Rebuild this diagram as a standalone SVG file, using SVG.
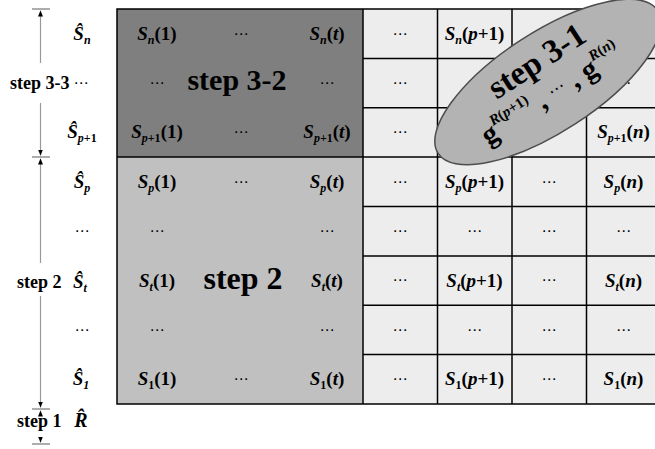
<svg xmlns="http://www.w3.org/2000/svg" width="655" height="449" viewBox="0 0 655 449">
<style>
.t{font-family:"Liberation Serif","Times New Roman",serif;font-weight:bold;font-size:19px;text-anchor:middle;fill:#000}
.i{font-style:italic}
.sb{font-size:12px;font-style:italic}
.sbu{font-size:12px;font-style:normal}
.d{font-family:"DejaVu Sans",sans-serif;font-size:15px;text-anchor:middle;fill:#000}
.big{font-family:"Liberation Serif","Times New Roman",serif;font-weight:bold;font-size:30px;text-anchor:middle;fill:#000}
.lbl{font-family:"Liberation Serif","Times New Roman",serif;font-weight:bold;font-size:18px;fill:#000}
.sup{font-size:15px}
.grid{stroke:#000;stroke-width:1.5;fill:none}
.ax{stroke:#999;stroke-width:1.2}
.tick{stroke:#777;stroke-width:1.2}
</style>
<defs>
<marker id="ah" viewBox="0 0 6 6" refX="6" refY="3" markerWidth="6" markerHeight="6" orient="auto" markerUnits="userSpaceOnUse">
<path d="M0,0.5 L6,3 L0,5.5 Z" fill="#000"/>
</marker>
</defs>
<rect width="655" height="449" fill="#fff"/>

<!-- blocks -->
<g id="block-step3-2">
<rect x="117" y="9" width="246" height="148" fill="#7f7f7f"/>
</g>
<g id="block-step2">
<rect x="117" y="157" width="246" height="247" fill="#c0c0c0"/>
</g>
<g id="block-right">
<rect x="363" y="9" width="300" height="395" fill="#ededed"/>
</g>

<!-- grid lines -->
<g id="grid" class="grid">
<rect x="117" y="9" width="560" height="395"/>
<line x1="363" y1="9" x2="363" y2="404"/>
<line x1="437.5" y1="9" x2="437.5" y2="404"/>
<line x1="512" y1="9" x2="512" y2="404"/>
<line x1="586.5" y1="9" x2="586.5" y2="404"/>
<line x1="363" y1="58.4" x2="655" y2="58.4"/>
<line x1="363" y1="107.8" x2="655" y2="107.8"/>
<line x1="117" y1="157.1" x2="655" y2="157.1"/>
<line x1="363" y1="206.5" x2="655" y2="206.5"/>
<line x1="363" y1="255.9" x2="655" y2="255.9"/>
<line x1="363" y1="305.3" x2="655" y2="305.3"/>
<line x1="363" y1="354.6" x2="655" y2="354.6"/>
</g>

<!-- left block texts -->
<g id="left-cells">
<text class="t" x="157" y="39.7"><tspan class="i">S</tspan><tspan class="sb" dy="4">n</tspan><tspan dy="-4">(1)</tspan></text>
<text class="d" x="241" y="38.5">⋯</text>
<text class="t" x="327" y="39.7"><tspan class="i">S</tspan><tspan class="sb" dy="4">n</tspan><tspan dy="-4">(</tspan><tspan class="i">t</tspan>)</text>
<text class="d" x="157" y="87.9">⋯</text>
<text class="big" x="237" y="90">step 3-2</text>
<text class="d" x="327" y="87.9">⋯</text>
<text class="t" x="157" y="138.4"><tspan class="i">S</tspan><tspan class="sb" dy="4">p</tspan><tspan class="sbu">+1</tspan><tspan dy="-4">(1)</tspan></text>
<text class="d" x="241" y="137.2">⋯</text>
<text class="t" x="327" y="138.4"><tspan class="i">S</tspan><tspan class="sb" dy="4">p</tspan><tspan class="sbu">+1</tspan><tspan dy="-4">(</tspan><tspan class="i">t</tspan>)</text>

<text class="t" x="157" y="187.8"><tspan class="i">S</tspan><tspan class="sb" dy="4">p</tspan><tspan dy="-4">(1)</tspan></text>
<text class="d" x="241" y="186.6">⋯</text>
<text class="t" x="327" y="187.8"><tspan class="i">S</tspan><tspan class="sb" dy="4">p</tspan><tspan dy="-4">(</tspan><tspan class="i">t</tspan>)</text>
<text class="d" x="157" y="236">⋯</text>
<text class="d" x="327" y="236">⋯</text>
<text class="t" x="157" y="286.5"><tspan class="i">S</tspan><tspan class="sb" dy="4">t</tspan><tspan dy="-4">(1)</tspan></text>
<text class="big" x="243" y="289" style="font-size:32px">step 2</text>
<text class="t" x="327" y="286.5"><tspan class="i">S</tspan><tspan class="sb" dy="4">t</tspan><tspan dy="-4">(</tspan><tspan class="i">t</tspan>)</text>
<text class="d" x="157" y="334.8">⋯</text>
<text class="d" x="327" y="334.8">⋯</text>
<text class="t" x="157" y="385.3"><tspan class="i">S</tspan><tspan class="sbu" dy="4">1</tspan><tspan dy="-4">(1)</tspan></text>
<text class="d" x="241" y="384.1">⋯</text>
<text class="t" x="327" y="385.3"><tspan class="i">S</tspan><tspan class="sbu" dy="4">1</tspan><tspan dy="-4">(</tspan><tspan class="i">t</tspan>)</text>
</g>

<!-- right cells -->
<g id="right-cells">
<text class="d" x="400" y="38.5">⋯</text>
<text class="t" x="474.5" y="39.7"><tspan class="i">S</tspan><tspan class="sb" dy="4">n</tspan><tspan dy="-4">(</tspan><tspan class="i">p</tspan>+1)</text>
<text class="d" x="549" y="38.5">⋯</text>
<text class="d" x="400" y="87.9">⋯</text>
<text class="d" x="474.5" y="87.9">⋯</text>
<text class="d" x="623.5" y="87.9">⋯</text>
<text class="d" x="400" y="137.2">⋯</text>
<text class="t" x="623.5" y="138.4"><tspan class="i">S</tspan><tspan class="sb" dy="4">p</tspan><tspan class="sbu">+1</tspan><tspan dy="-4">(</tspan><tspan class="i">n</tspan>)</text>

<text class="d" x="400" y="186.6">⋯</text>
<text class="t" x="474.5" y="187.8"><tspan class="i">S</tspan><tspan class="sb" dy="4">p</tspan><tspan dy="-4">(</tspan><tspan class="i">p</tspan>+1)</text>
<text class="d" x="549" y="186.6">⋯</text>
<text class="t" x="623.5" y="187.8"><tspan class="i">S</tspan><tspan class="sb" dy="4">p</tspan><tspan dy="-4">(</tspan><tspan class="i">n</tspan>)</text>
<text class="d" x="400" y="236">⋯</text>
<text class="d" x="474.5" y="236">⋯</text>
<text class="d" x="549" y="236">⋯</text>
<text class="d" x="623.5" y="236">⋯</text>
<text class="d" x="400" y="285.4">⋯</text>
<text class="t" x="474.5" y="286.5"><tspan class="i">S</tspan><tspan class="sb" dy="4">t</tspan><tspan dy="-4">(</tspan><tspan class="i">p</tspan>+1)</text>
<text class="d" x="549" y="285.4">⋯</text>
<text class="t" x="623.5" y="286.5"><tspan class="i">S</tspan><tspan class="sb" dy="4">t</tspan><tspan dy="-4">(</tspan><tspan class="i">n</tspan>)</text>
<text class="d" x="400" y="334.8">⋯</text>
<text class="d" x="474.5" y="334.8">⋯</text>
<text class="d" x="549" y="334.8">⋯</text>
<text class="d" x="623.5" y="334.8">⋯</text>
<text class="d" x="400" y="384.1">⋯</text>
<text class="t" x="474.5" y="385.3"><tspan class="i">S</tspan><tspan class="sbu" dy="4">1</tspan><tspan dy="-4">(</tspan><tspan class="i">p</tspan>+1)</text>
<text class="d" x="549" y="384.1">⋯</text>
<text class="t" x="623.5" y="385.3"><tspan class="i">S</tspan><tspan class="sbu" dy="4">1</tspan><tspan dy="-4">(</tspan><tspan class="i">n</tspan>)</text>
</g>

<!-- ellipse step 3-1 -->
<g id="step3-1">
<ellipse cx="548" cy="82" rx="131" ry="50" transform="rotate(-33 548 82)" fill="#b3b3b3" stroke="#4d4d4d" stroke-width="1.5"/>
<g transform="translate(548,82) rotate(-33)">
<text class="big" x="2" y="-13" style="font-size:33px">step 3-1</text>
<text class="t" x="-4" y="21" style="font-size:29px">g<tspan class="sup i" dy="-14">R</tspan><tspan class="sup">(</tspan><tspan class="sup i">p</tspan><tspan class="sup">+1)</tspan><tspan dy="14"> , </tspan><tspan style="font-family:'DejaVu Sans',sans-serif;font-size:17px;font-weight:normal" dy="-5">⋯</tspan><tspan dy="5"> , g</tspan><tspan class="sup i" dy="-14">R</tspan><tspan class="sup">(</tspan><tspan class="sup i">n</tspan><tspan class="sup">)</tspan></text>
</g>
</g>

<!-- row labels -->
<g id="row-labels">
<text class="t" x="82" y="39.7"><tspan class="i">Ŝ</tspan><tspan class="sb" dy="4">n</tspan></text>
<text class="lbl" x="10" y="89">step 3-3</text>
<text class="d" x="81" y="87.9">⋯</text>
<text class="t" x="82" y="138.4"><tspan class="i">Ŝ</tspan><tspan class="sb" dy="4">p</tspan><tspan class="sbu">+1</tspan></text>
<text class="t" x="82" y="187.8"><tspan class="i">Ŝ</tspan><tspan class="sb" dy="4">p</tspan></text>
<text class="d" x="82" y="236">⋯</text>
<text class="lbl" x="17" y="288">step 2</text>
<text class="t" x="80" y="288"><tspan class="i">Ŝ</tspan><tspan class="sb" dy="4">t</tspan></text>
<text class="d" x="82" y="334.8">⋯</text>
<text class="t" x="81" y="385.3"><tspan class="i">Ŝ</tspan><tspan class="sb" dy="4">1</tspan></text>
<text class="lbl" x="17" y="427">step 1</text>
<text class="t" x="81" y="427" style="font-size:20px"><tspan class="i">R̂</tspan></text>
</g>

<!-- connectors: extent arrows -->
<g id="connectors">
<line class="tick" x1="32" y1="9" x2="50" y2="9"/>
<line class="tick" x1="32" y1="157" x2="50" y2="157"/>
<line class="tick" x1="32" y1="409" x2="50" y2="409"/>
<line class="tick" x1="32" y1="444" x2="50" y2="444"/>
<line class="ax" x1="40.5" y1="63" x2="40.5" y2="10.5" marker-end="url(#ah)"/>
<line class="ax" x1="40.5" y1="103" x2="40.5" y2="155.5" marker-end="url(#ah)"/>
<line class="ax" x1="40.5" y1="263" x2="40.5" y2="158.5" marker-end="url(#ah)"/>
<line class="ax" x1="40.5" y1="296" x2="40.5" y2="407.5" marker-end="url(#ah)"/>
<line class="ax" x1="40.5" y1="416" x2="40.5" y2="410.5" marker-end="url(#ah)"/>
<line class="ax" x1="40.5" y1="437" x2="40.5" y2="442.5" marker-end="url(#ah)"/>
</g>
</svg>
